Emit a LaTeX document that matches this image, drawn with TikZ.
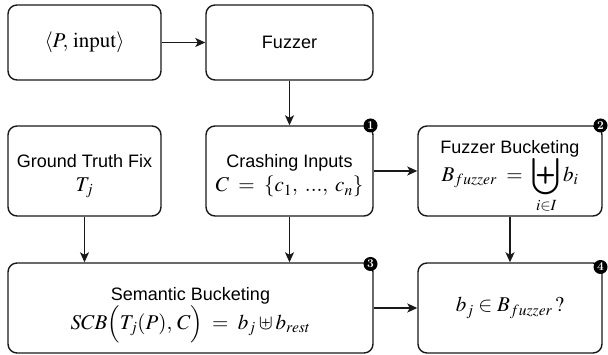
\documentclass[tikz,border=0pt]{standalone}
\usepackage{mathptmx}
\usepackage{exscale}
\usepackage[no-math]{fontspec}
\setsansfont{Liberation Sans}
\usetikzlibrary{arrows.meta}
\newcommand\mathline[1]{{\fontsize{21}{24}\selectfont$#1$}}
\newcommand\bigmultiset{\mathop{\vcenter{\hbox{\scalebox{1.25}{$\displaystyle\biguplus$}}}}\limits}
\tikzset{
  box/.style={draw=black!90, line width=1.4pt, rounded corners=9pt, inner sep=0pt},
  lbl/.style={inner sep=0pt, align=center, font=\sffamily\fontsize{18}{24}\selectfont},
  badge/.style={circle, fill=black, text=white, inner sep=0pt, minimum size=14pt,
    font=\rmfamily\bfseries\fontsize{12}{12}\selectfont},
  arr/.style={line width=1.4pt, draw=black!90,
    -{Stealth[length=10pt,width=9pt,inset=2.5pt]}}
}
\begin{document}
\begin{tikzpicture}[x=1pt,y=1pt]
\useasboundingbox (0,0) rectangle (608,355);
% boxes
\node[box, minimum width=153pt, minimum height=75pt] (inp) at (84.5,312.5) {};
\node[box, minimum width=167pt, minimum height=75pt] (fuz) at (289.5,312.5) {};
\node[box, minimum width=153pt, minimum height=90pt] (gt) at (84.5,184) {};
\node[box, minimum width=167pt, minimum height=90pt] (crash) at (289.5,184) {};
\node[box, minimum width=184pt, minimum height=90pt] (fb) at (510,184) {};
\node[box, minimum width=365pt, minimum height=90pt] (sem) at (190.5,47) {};
\node[box, minimum width=184pt, minimum height=90pt] (q) at (510,47) {};
% box texts
\node[lbl] (inp-t) at (inp.center) {\mathline{\langle P,\,\mathrm{input}\rangle}};
\node[lbl] (fuz-t) at (fuz.center) {Fuzzer};
\node[lbl] (gt-t) at ([yshift=-5pt]gt.center) {Ground Truth Fix\\ \mathline{T_j}};
\node[lbl] (crash-t) at ([yshift=-5pt]crash.center)
  {Crashing Inputs\\ \mathline{C\;=\;\{c_1,\;...,\;c_n\}}};
\node[lbl] (fb-t) at ([yshift=-6pt]fb.center)
  {Fuzzer Bucketing\\[-3pt] \mathline{B_{fuzzer}\;=\;\bigmultiset_{i\in I} b_i}};
\node[lbl] (sem-t) at ([yshift=-7pt]sem.center)
  {Semantic Bucketing\\ \mathline{SCB\Big(T_j(P),\,C\Big)\;=\;b_j\uplus b_{rest}}};
\node[lbl] (q-t) at (q.center) {\mathline{b_j\in B_{fuzzer}\,?}};
% step badges
\node[badge] (b1) at (370.5,229.5) {1};
\node[badge] (b2) at (600.5,229.5) {2};
\node[badge] (b3) at (370.5,91) {3};
\node[badge] (b4) at (600.5,88) {4};
% connectors
\draw[arr] (inp) -- (fuz);
\draw[arr] (fuz) -- (crash);
\draw[arr] (crash) -- (fb);
\draw[arr] (gt.south) -- (gt.south |- sem.north);
\draw[arr] (crash.south) -- (crash.south |- sem.north);
\draw[arr] (fb) -- (q);
\draw[arr] (sem) -- (q);
\end{tikzpicture}
\end{document}
